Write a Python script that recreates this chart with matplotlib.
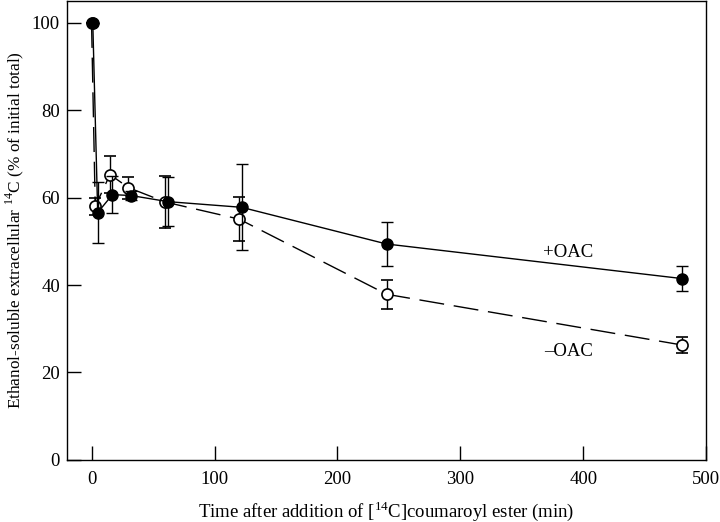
import matplotlib
matplotlib.use("Agg")
import matplotlib.pyplot as plt

plt.rcParams['font.family'] = ['Liberation Serif', 'DejaVu Serif']
plt.rcParams['mathtext.fontset'] = 'custom'
plt.rcParams['mathtext.rm'] = 'Liberation Serif'

# +OAC (filled circles, solid line)
time_plus = [1, 5, 17, 32, 62, 122, 240, 480]
val_plus = [100, 56.6, 60.7, 60.5, 59.1, 57.8, 49.4, 41.5]
err_plus = [0, 7.0, 4.2, 1.0, 5.6, 9.8, 5.0, 2.9]

# -OAC (open circles, dashed line)
time_minus = [0, 3, 15, 30, 60, 120, 240, 480]
val_minus = [100, 58.0, 65.3, 62.3, 59.0, 55.1, 37.9, 26.3]
err_minus = [0, 2.0, 4.2, 2.5, 6.0, 5.0, 3.3, 1.9]

fig = plt.figure(figsize=(7.2, 5.22), dpi=100)
ax = fig.add_axes([0.093, 0.119, 0.888, 0.879])

ax.errorbar(time_plus, val_plus, yerr=err_plus, color='black', linewidth=1.0,
            marker='o', markersize=8, markerfacecolor='black', markeredgecolor='black',
            ecolor='black', elinewidth=1.0, capsize=4, capthick=1.0, zorder=3)
ax.errorbar(time_minus, val_minus, yerr=err_minus, color='black', linewidth=1.0,
            linestyle=(0, (18, 7)), marker='o', markersize=8, markerfacecolor='white',
            markeredgecolor='black', markeredgewidth=1.2, ecolor='black',
            elinewidth=1.0, capsize=4, capthick=1.0, zorder=2)

ax.text(388, 47.5, '+OAC', fontsize=13.5, ha='center', va='center')
ax.text(388, 24.7, '\u2013OAC', fontsize=13.5, ha='center', va='center')

ax.set_xlim(-20, 500)
ax.set_ylim(0, 105)
ax.set_xticks([0, 100, 200, 300, 400, 500])
ax.set_yticks([0, 20, 40, 60, 80, 100])
ax.tick_params(direction='in', length=10, width=1, labelsize=13.5)
ax.tick_params(axis='x', pad=8)
ax.tick_params(axis='y', pad=5)
for s in ax.spines.values():
    s.set_linewidth(1.0)

ax.set_xlabel('Time after addition of [$^{14}$C]coumaroyl ester (min)', fontsize=13.5, labelpad=8)
ax.set_ylabel('Ethanol-soluble extracellular $^{14}$C (% of initial total)', fontsize=12.4, labelpad=4)

fig.savefig('out.png', dpi=100)
